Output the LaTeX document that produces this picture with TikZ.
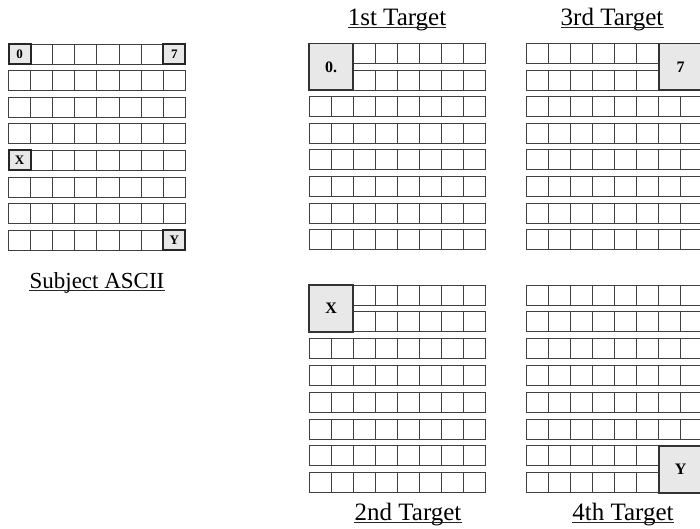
\documentclass[tikz,border=0pt]{standalone}
\usepackage{fontspec}
\setmainfont{Liberation Serif}
\usetikzlibrary{positioning,fit}

\begin{document}
\begin{tikzpicture}[
    x=1pt, y=-1pt,
    cell/.style={draw=black!75, line width=1pt, minimum width=22.1pt, minimum height=20pt, inner sep=0pt, outer sep=0pt, anchor=north west},
    keycell/.style={cell, draw=black!85, line width=2pt, fill=black!9, font=\fontsize{13}{14}\selectfont\bfseries},
    bigcell/.style={draw=black!80, line width=1.8pt, fill=black!9, inner sep=0pt, outer sep=0pt},
    keylabel/.style={font=\fontsize{16}{17}\selectfont\bfseries, inner sep=0pt},
    title/.style={font=\fontsize{25}{27}\selectfont, inner sep=0pt, anchor=base},
    uline/.style={line width=0.9pt, draw=black!85},
]
\useasboundingbox (0,0) rectangle (700,528);
% the five 8x8 grids: name / left / top / row pitch
\foreach \g/\gx/\gy/\gp in {subj/8.5/44/26.6, tgtA/309/43.5/26.6, tgtC/526/43.5/26.6, tgtB/309/285/26.8, tgtD/526/285/26.8}{
  \foreach \r in {0,...,7}{
    \foreach \c in {0,...,7}{
      \node[cell] (\g-\r-\c) at ({\gx+22.1*\c},{\gy+\gp*\r}) {};
    }
  }
}
% subject characters
\node[keycell] (subj-key0) at (subj-0-0.north west) {0};
\node[keycell] (subj-key7) at (subj-0-7.north west) {7};
\node[keycell] (subj-keyX) at (subj-4-0.north west) {X};
\node[keycell] (subj-keyY) at (subj-7-7.north west) {Y};
% enlarged characters in the targets
\node[bigcell, fit=(tgtA-0-0)(tgtA-1-1), label={[keylabel]center:0.}] (tgtA-key) {};
\node[bigcell, fit=(tgtC-0-6)(tgtC-1-7), label={[keylabel]center:7}] (tgtC-key) {};
\node[bigcell, fit=(tgtB-0-0)(tgtB-1-1), label={[keylabel]center:X}] (tgtB-key) {};
\node[bigcell, fit=(tgtD-6-6)(tgtD-7-7), label={[keylabel]center:Y}] (tgtD-key) {};
% titles
\node[title, font=\fontsize{23}{25}\selectfont] (subjT) at (97,288) {Subject ASCII};
\node[title] (tgtAT) at (397,25) {1st Target};
\node[title] (tgtCT) at (612,25) {3rd Target};
\node[title] (tgtBT) at (408,520) {2nd Target};
\node[title] (tgtDT) at (623,520) {4th Target};
\foreach \t in {subjT,tgtAT,tgtCT,tgtBT,tgtDT}
  \draw[uline] ([yshift=-2.5pt]\t.base west) -- ([yshift=-2.5pt]\t.base east);
\end{tikzpicture}
\end{document}
